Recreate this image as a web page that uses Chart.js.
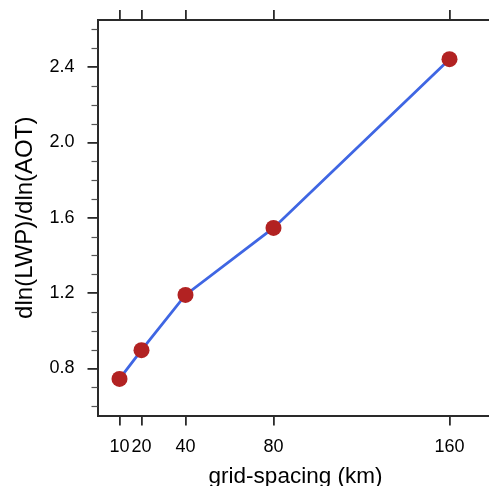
<!DOCTYPE html>
<html>
<head>
<meta charset="utf-8">
<script src="https://cdn.jsdelivr.net/npm/chart.js@4/dist/chart.umd.min.js"></script>
<style>
html,body{margin:0;padding:0;overflow:hidden;background:#fff;width:489px;height:486px;}
#wrap{position:absolute;left:0;top:0;width:496px;height:490px;}
</style>
</head>
<body>
<div id="wrap"><canvas id="c" width="496" height="490" style="width:496px;height:490px"></canvas></div>
<script>
const gridSpacing = [10, 20, 40, 80, 160];
const slopeValues = [0.744, 0.897, 1.19, 1.546, 2.442];
const xTickValues = [10, 20, 40, 80, 160];
const yMajorTicks = [0.8, 1.2, 1.6, 2.0, 2.4];
const yMinorTicks = [0.6, 0.7, 0.9, 1.0, 1.1, 1.3, 1.4, 1.5, 1.7, 1.8, 1.9, 2.1, 2.2, 2.3, 2.5, 2.6];
const xTitle = 'grid-spacing (km)';
const yTitle = 'dln(LWP)/dln(AOT)';

const axisColor = '#2a2a2a';
const FONT = 'Liberation Sans, Arial, Helvetica, sans-serif';

function zeroPad(s) {
  s.paddingTop = 0; s.paddingBottom = 0; s.paddingLeft = 0; s.paddingRight = 0;
}

const minorTicks = {
  id: 'minorTicks',
  afterDraw(chart) {
    const y = chart.scales.y;
    const ctx = chart.ctx;
    const left = chart.chartArea.left;
    ctx.save();
    ctx.strokeStyle = '#555';
    ctx.lineWidth = 1.2;
    yMinorTicks.forEach(v => {
      const py = Math.round(y.getPixelForValue(v)) + 0.5;
      ctx.beginPath();
      ctx.moveTo(left - 6, py);
      ctx.lineTo(left, py);
      ctx.stroke();
    });
    ctx.restore();
  }
};

new Chart(document.getElementById('c'), {
  type: 'line',
  data: {
    datasets: [{
      data: gridSpacing.map((g, i) => ({x: g, y: slopeValues[i]})),
      borderColor: '#3f66e3',
      borderWidth: 2.8,
      pointRadius: 8,
      pointHoverRadius: 8,
      pointBackgroundColor: '#B22222',
      pointBorderWidth: 0,
      pointBorderColor: '#B22222',
      tension: 0,
      fill: false,
      clip: false
    }]
  },
  options: {
    responsive: false,
    animation: false,
    devicePixelRatio: 1,
    layout: {autoPadding: false, padding: {left: 0, top: 0, right: 2.5, bottom: 0}},
    plugins: {legend: {display: false}, tooltip: {enabled: false}},
    scales: {
      x: {
        type: 'linear', position: 'bottom', min: 0, max: 180,
        afterBuildTicks: s => { s.ticks = xTickValues.map(v => ({value: v})); },
        afterFit: s => { s.height = 74.5; zeroPad(s); },
        grid: {drawOnChartArea: false, drawTicks: true, tickLength: 10, color: axisColor, lineWidth: 1.8},
        border: {display: true, color: axisColor, width: 2},
        ticks: {color: '#000', font: {family: FONT, size: 18}, padding: 11, maxRotation: 0, autoSkip: false},
        title: {display: true, text: xTitle, color: '#000', font: {family: FONT, size: 22.5, lineHeight: 1}, padding: {top: 0, bottom: 2.3}}
      },
      x2: {
        type: 'linear', position: 'top', min: 0, max: 180,
        afterBuildTicks: s => { s.ticks = xTickValues.map(v => ({value: v})); },
        afterFit: s => { s.height = 20; zeroPad(s); },
        grid: {drawOnChartArea: false, drawTicks: true, tickLength: 10, color: axisColor, lineWidth: 1.8},
        border: {display: true, color: axisColor, width: 2},
        ticks: {display: false}
      },
      y: {
        type: 'linear', position: 'left', min: 0.55, max: 2.65,
        afterBuildTicks: s => { s.ticks = yMajorTicks.map(v => ({value: v})); },
        afterFit: s => { s.width = 97.5; zeroPad(s); },
        grid: {drawOnChartArea: false, drawTicks: true, tickLength: 10, color: axisColor, lineWidth: 1.8},
        border: {display: true, color: axisColor, width: 2},
        ticks: {color: '#000', font: {family: FONT, size: 18}, padding: 13, callback: v => v.toFixed(1)},
        title: {display: true, text: yTitle, color: '#000', font: {family: FONT, size: 24, lineHeight: 1}, padding: {top: 13.5, bottom: 0}}
      }
    }
  },
  plugins: [minorTicks]
});
</script>
</body>
</html>
